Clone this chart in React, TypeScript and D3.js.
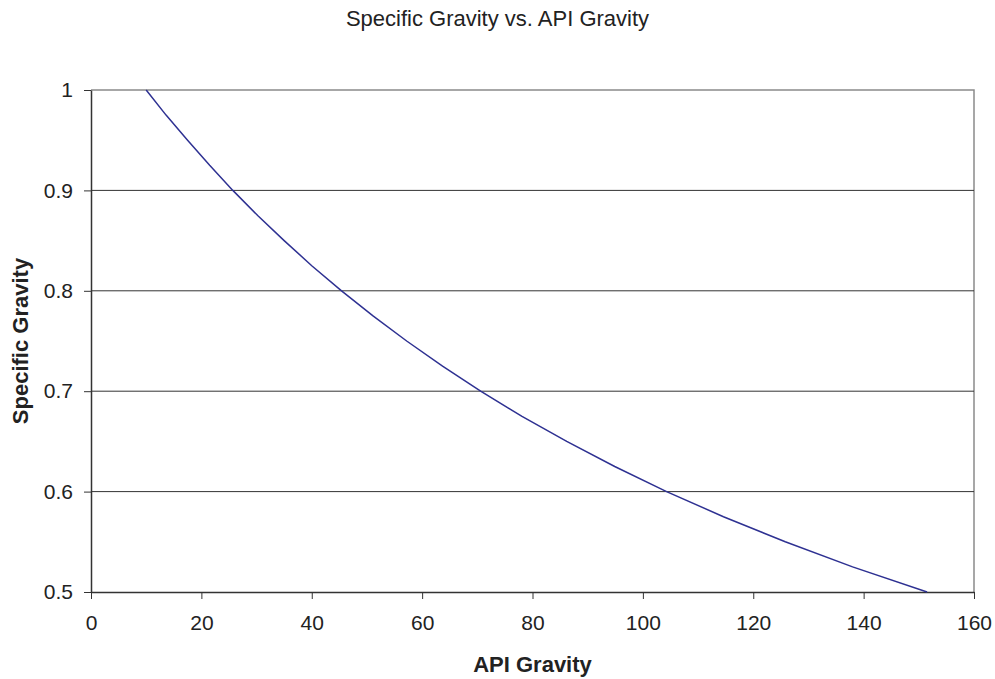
import { useEffect, useRef } from "react"
import * as d3 from "d3"

// API gravity values, with the matching specific gravity
const apiGravity = [10, 13.6, 17.5, 21.5, 25.7, 30.2, 35, 40, 45.4, 51.1, 57.2, 63.7, 70.6, 78.1, 86.2, 94.9, 104.3, 114.6, 125.8, 138, 151.5]
const specificGravity = [1, 0.975, 0.95, 0.925, 0.9, 0.875, 0.85, 0.825, 0.8, 0.775, 0.75, 0.725, 0.7, 0.675, 0.65, 0.625, 0.6, 0.575, 0.55, 0.525, 0.5]

const xTicks = [0, 20, 40, 60, 80, 100, 120, 140, 160]
const yTicks = [0.5, 0.6, 0.7, 0.8, 0.9, 1]

export default function App() {
  const svgRef = useRef<SVGSVGElement>(null)

  useEffect(() => {
    if (!svgRef.current) return
    const root = d3.select(svgRef.current)
    root.selectAll("*").remove()

    const margin = { top: 90, right: 21, bottom: 87, left: 91 }
    const totalW = 995
    const totalH = 679
    const width = totalW - margin.left - margin.right
    const height = totalH - margin.top - margin.bottom
    const font = "Liberation Sans, Arial, sans-serif"

    const x = d3.scaleLinear().domain([0, 160]).range([0, width])
    const y = d3.scaleLinear().domain([0.5, 1]).range([height, 0])

    // title
    root
      .append("text")
      .attr("x", totalW / 2)
      .attr("y", 26)
      .attr("text-anchor", "middle")
      .style("font-family", font)
      .style("font-size", "22px")
      .style("fill", "#222")
      .text("Specific Gravity vs. API Gravity")

    const svg = root.append("g").attr("transform", `translate(${margin.left},${margin.top})`)

    // plot frame (top/right in grey)
    svg
      .append("path")
      .attr("d", `M0,0H${width}V${height}`)
      .attr("fill", "none")
      .attr("stroke", "#8a8a8a")
      .attr("stroke-width", 1.5)

    // gridlines
    svg
      .selectAll(".grid")
      .data(yTicks.filter((t) => t !== 0.5 && t !== 1))
      .enter()
      .append("line")
      .attr("x1", 0)
      .attr("x2", width)
      .attr("y1", (d) => y(d))
      .attr("y2", (d) => y(d))
      .attr("stroke", "#333")
      .attr("stroke-width", 1)

    // x axis
    const xAxis = svg
      .append("g")
      .attr("transform", `translate(0,${height})`)
      .call(d3.axisBottom(x).tickValues(xTicks).tickSize(7).tickSizeOuter(0).tickPadding(16))
    xAxis.select(".domain").attr("stroke", "#333").attr("stroke-width", 1.5)
    xAxis.selectAll(".tick line").attr("stroke", "#333")
    xAxis
      .selectAll("text")
      .style("font-family", font)
      .style("font-size", "21px")
      .style("fill", "#222")

    // y axis
    const yAxis = svg
      .append("g")
      .call(d3.axisLeft(y).tickValues(yTicks).tickFormat(d3.format("")).tickSize(7).tickSizeOuter(0).tickPadding(11))
    yAxis.select(".domain").attr("stroke", "#333").attr("stroke-width", 1.5)
    yAxis.selectAll(".tick line").attr("stroke", "#333")
    yAxis
      .selectAll("text")
      .style("font-family", font)
      .style("font-size", "21px")
      .style("fill", "#222")

    // axis labels
    svg
      .append("text")
      .attr("x", width / 2)
      .attr("y", height + 80)
      .attr("text-anchor", "middle")
      .style("font-family", font)
      .style("font-size", "22px")
      .style("font-weight", "bold")
      .style("fill", "#222")
      .text("API Gravity")

    svg
      .append("text")
      .attr("transform", "rotate(-90)")
      .attr("x", -height / 2)
      .attr("y", -63)
      .attr("text-anchor", "middle")
      .style("font-family", font)
      .style("font-size", "22px")
      .style("font-weight", "bold")
      .style("fill", "#222")
      .text("Specific Gravity")

    // curve
    const points = apiGravity.map((a, i) => [a, specificGravity[i]] as [number, number])
    const line = d3
      .line<[number, number]>()
      .x((d) => x(d[0]))
      .y((d) => y(d[1]))
    svg
      .append("path")
      .datum(points)
      .attr("d", line)
      .attr("fill", "none")
      .attr("stroke", "#2e3192")
      .attr("stroke-width", 1.5)
  }, [])

  return (
    <div style={{ position: "fixed", left: 0, top: 0, width: 995, height: 679, overflow: "hidden", background: "#fff" }}>
      <svg ref={svgRef} width={995} height={679} style={{ display: "block" }}></svg>
    </div>
  )
}
